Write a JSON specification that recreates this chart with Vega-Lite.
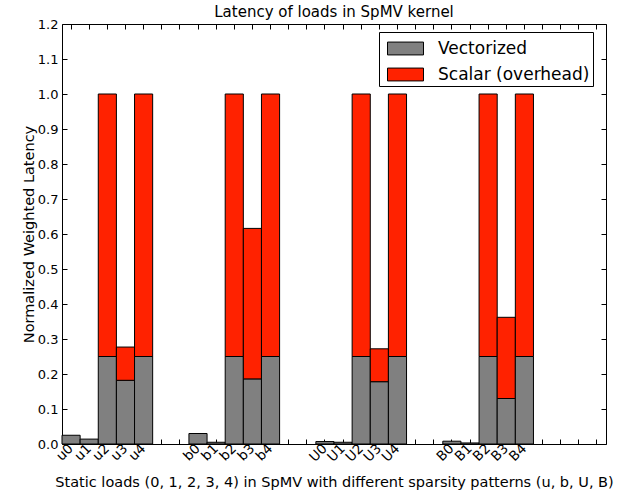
{
  "$schema": "https://vega.github.io/schema/vega-lite/v6.json",
  "autosize": {"type": "none"},
  "width": 544,
  "height": 420,
  "padding": {"left": 62, "top": 24, "right": 28, "bottom": 51},
  "background": "white",
  "title": {"text": "Latency of loads in SpMV  kernel", "font": "DejaVu Sans", "fontSize": 15, "fontWeight": "normal", "color": "black", "offset": -2},
  "config": {
    "font": "DejaVu Sans",
    "view": {"stroke": "black", "strokeWidth": 1},
    "axis": {"domain": false, "tickColor": "black", "labelColor": "black", "titleColor": "black", "labelFont": "DejaVu Sans", "titleFont": "DejaVu Sans", "labelFontSize": 13, "titleFontSize": 14.5, "titleFontWeight": "normal", "grid": false}
  },
  "data": {"values": [
    {"load": "u0", "part": "Vectorized", "value": 0.025},
    {"load": "u1", "part": "Vectorized", "value": 0.014},
    {"load": "u2", "part": "Vectorized", "value": 0.25},
    {"load": "u2", "part": "Scalar (overhead)", "value": 0.75},
    {"load": "u3", "part": "Vectorized", "value": 0.182},
    {"load": "u3", "part": "Scalar (overhead)", "value": 0.095},
    {"load": "u4", "part": "Vectorized", "value": 0.25},
    {"load": "u4", "part": "Scalar (overhead)", "value": 0.75},
    {"load": "b0", "part": "Vectorized", "value": 0.03},
    {"load": "b1", "part": "Vectorized", "value": 0.005},
    {"load": "b2", "part": "Vectorized", "value": 0.25},
    {"load": "b2", "part": "Scalar (overhead)", "value": 0.75},
    {"load": "b3", "part": "Vectorized", "value": 0.186},
    {"load": "b3", "part": "Scalar (overhead)", "value": 0.43},
    {"load": "b4", "part": "Vectorized", "value": 0.25},
    {"load": "b4", "part": "Scalar (overhead)", "value": 0.75},
    {"load": "U0", "part": "Vectorized", "value": 0.007},
    {"load": "U1", "part": "Vectorized", "value": 0.005},
    {"load": "U2", "part": "Vectorized", "value": 0.25},
    {"load": "U2", "part": "Scalar (overhead)", "value": 0.75},
    {"load": "U3", "part": "Vectorized", "value": 0.178},
    {"load": "U3", "part": "Scalar (overhead)", "value": 0.094},
    {"load": "U4", "part": "Vectorized", "value": 0.25},
    {"load": "U4", "part": "Scalar (overhead)", "value": 0.75},
    {"load": "B0", "part": "Vectorized", "value": 0.008},
    {"load": "B1", "part": "Vectorized", "value": 0.003},
    {"load": "B2", "part": "Vectorized", "value": 0.25},
    {"load": "B2", "part": "Scalar (overhead)", "value": 0.75},
    {"load": "B3", "part": "Vectorized", "value": 0.13},
    {"load": "B3", "part": "Scalar (overhead)", "value": 0.232},
    {"load": "B4", "part": "Vectorized", "value": 0.25},
    {"load": "B4", "part": "Scalar (overhead)", "value": 0.75}
  ]},
  "layer": [
    {
      "mark": {"type": "bar", "stroke": "black", "strokeWidth": 1},
      "encoding": {
        "x": {"field": "load", "type": "nominal",
          "scale": {"domain": ["u0","u1","u2","u3","u4","gap1","gap2","b0","b1","b2","b3","b4","gap3","gap4","U0","U1","U2","U3","U4","gap5","gap6","B0","B1","B2","B3","B4","gap7","gap8","gap9","gap10"], "paddingInner": 0, "paddingOuter": 0},
          "axis": {"orient": "bottom", "title": "Static loads (0, 1, 2, 3, 4) in SpMV with different sparsity patterns (u, b, U, B)", "labelExpr": "indexof(datum.value, 'gap') >= 0 ? '' : datum.value", "labelAngle": -45, "labelAlign": "right", "labelBaseline": "middle", "labelFontSize": 13.5, "tickSize": -5, "labelPadding": 7, "titlePadding": 12}},
        "y": {"field": "value", "type": "quantitative", "stack": "zero",
          "scale": {"domain": [0, 1.2], "nice": false},
          "axis": {"orient": "left", "title": "Normalized Weighted Latency", "values": [0,0.1,0.2,0.3,0.4,0.5,0.6,0.7,0.8,0.9,1.0,1.1,1.2], "format": ".1f", "tickSize": -5, "labelPadding": 9, "titlePadding": 1}},
        "color": {"field": "part", "type": "nominal",
          "scale": {"domain": ["Vectorized", "Scalar (overhead)"], "range": ["#808080", "#ff2200"]},
          "legend": {"title": null, "orient": "none", "legendX": 317, "legendY": 8, "symbolType": "M-1.4,-0.5L1.4,-0.5L1.4,0.5L-1.4,0.5Z", "symbolSize": 661, "symbolOffset": 10, "symbolStrokeColor": "black", "symbolStrokeWidth": 1, "symbolOpacity": 1, "labelFontSize": 17, "labelFont": "DejaVu Sans", "labelColor": "black", "labelOffset": 19, "rowPadding": 4, "padding": 3, "strokeColor": "black", "fillColor": "white", "labelLimit": 300}},
        "order": {"field": "part", "sort": "descending"}
      }
    },
    {
      "mark": {"type": "bar", "opacity": 0},
      "encoding": {
        "x": {"field": "load", "type": "nominal", "axis": {"orient": "top", "labels": false, "title": null, "tickSize": -5}},
        "y": {"field": "value", "type": "quantitative", "stack": "zero", "axis": {"orient": "right", "labels": false, "title": null, "values": [0,0.1,0.2,0.3,0.4,0.5,0.6,0.7,0.8,0.9,1.0,1.1,1.2], "tickSize": -5}}
      }
    }
  ],
  "resolve": {"axis": {"x": "independent", "y": "independent"}}
}
